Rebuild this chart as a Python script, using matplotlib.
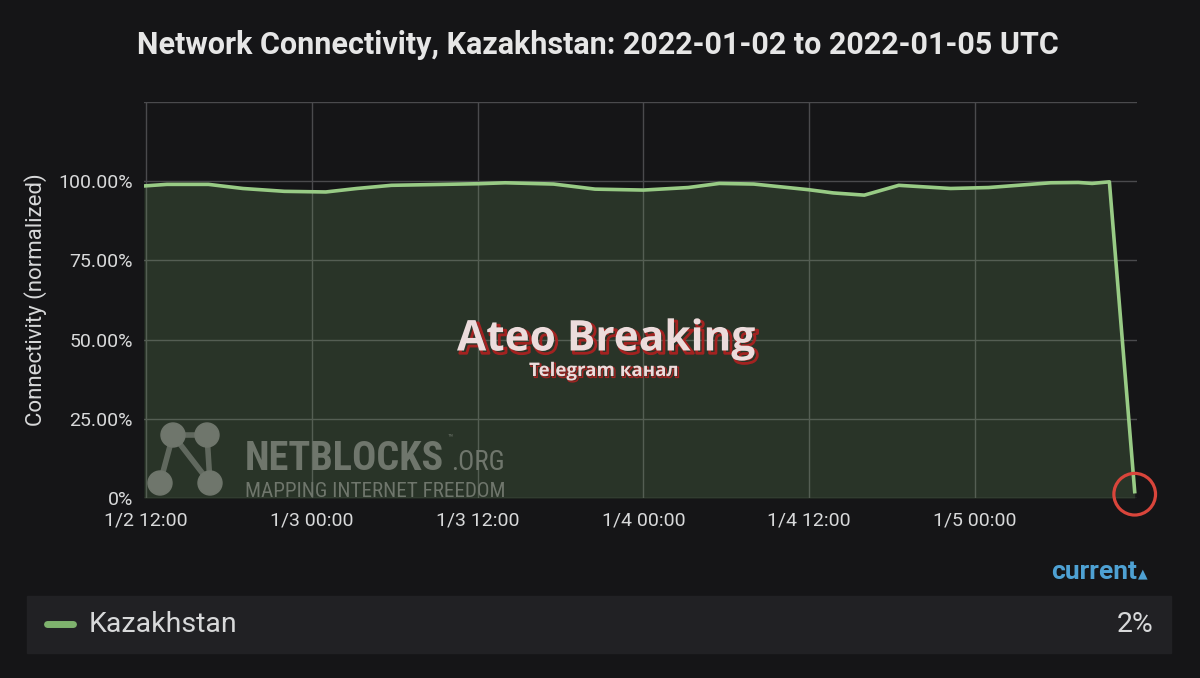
import matplotlib.pyplot as plt
import pandas as pd
from matplotlib import patheffects, font_manager
from matplotlib.patches import Rectangle, Ellipse
from matplotlib.lines import Line2D

# connectivity readings (UTC)
times = ["2022-01-02 11:50", "2022-01-02 13:30", "2022-01-02 16:30", "2022-01-02 19:00",
         "2022-01-02 22:00", "2022-01-03 01:00", "2022-01-03 03:15", "2022-01-03 05:45",
         "2022-01-03 12:00", "2022-01-03 14:00", "2022-01-03 17:30", "2022-01-03 20:30",
         "2022-01-04 00:00", "2022-01-04 03:15", "2022-01-04 05:30", "2022-01-04 08:00",
         "2022-01-04 12:00", "2022-01-04 13:45", "2022-01-04 16:00", "2022-01-04 18:30",
         "2022-01-04 22:15", "2022-01-05 01:00", "2022-01-05 05:30", "2022-01-05 07:30",
         "2022-01-05 08:30", "2022-01-05 09:45", "2022-01-05 11:35"]
values = [98.5, 99.0, 99.0, 97.7, 96.8, 96.6, 97.7, 98.7,
          99.2, 99.5, 99.1, 97.5, 97.2, 98.0, 99.3, 99.1,
          97.3, 96.3, 95.6, 98.7, 97.7, 98.0, 99.5, 99.6,
          99.3, 99.8, 2.0]

tick_times = ["2022-01-02 12:00", "2022-01-03 00:00", "2022-01-03 12:00",
              "2022-01-04 00:00", "2022-01-04 12:00", "2022-01-05 00:00"]
tick_labels = ["1/2 12:00", "1/3 00:00", "1/3 12:00", "1/4 00:00", "1/4 12:00", "1/5 00:00"]
y_ticks = [0, 25, 50, 75, 100, 125]
y_labels = ["0%", "25.00%", "50.00%", "75.00%", "100.00%", ""]

title = "Network Connectivity, Kazakhstan: 2022-01-02 to 2022-01-05 UTC"
country = "Kazakhstan"
current = "2%"

BG = "#151517"
TXT = "#d8d9da"
GREEN = "#7eb26d"
W, H = 1200, 678

plt.rcParams['font.family'] = ['Roboto', 'DejaVu Sans']

fig = plt.figure(figsize=(W / 100, H / 100), dpi=100, facecolor=BG)
ax = fig.add_axes([144 / W, 1 - 498 / H, 993 / W, 396 / H])
ax.set_facecolor(BG)

t = pd.to_datetime(times)
ax.fill_between(t, values, 0, color=GREEN, alpha=0.2, lw=0, zorder=2)
ax.plot(t, values, color="#98cb85", lw=2.6, zorder=3, solid_joinstyle="round")

ax.set_xlim(pd.Timestamp("2022-01-02 11:50"), pd.Timestamp("2022-01-05 11:45"))
ax.set_ylim(0, 125)
ax.set_xticks(pd.to_datetime(tick_times))
ax.set_xticklabels(tick_labels)
ax.set_yticks(y_ticks)
ax.set_yticklabels(y_labels)
ax.tick_params(length=0, colors=TXT, labelsize=14)
ax.tick_params(axis="x", pad=10)
ax.tick_params(axis="y", pad=8)
ax.grid(True, color="#4a4a4d", lw=1, zorder=1)
for s in ax.spines.values():
    s.set_visible(False)
ax.set_ylabel("Connectivity (normalized)", color=TXT, fontsize=16, labelpad=8)

fig.text(0.498, 1 - 45 / H, title, color="#e6e6e6", fontsize=22,
         fontweight="semibold", ha="center", va="center")

# red circle around the last value
ax.scatter([t[-1]], [values[-1] - 0.8], s=900, facecolors="none",
           edgecolors="#d9453b", linewidths=2.3, zorder=5, clip_on=False)

# watermarks
red_shadow = [patheffects.SimpleLineShadow(offset=(2, -2), shadow_color="#b02020",
                                           alpha=0.9, linewidth=2),
              patheffects.Normal()]
fig.text(606 / W, 1 - 340 / H, "Ateo Breaking", color="#ecdcdc", fontsize=30.5,
         fontweight="bold", family=["Open Sans", "DejaVu Sans"], ha="center", va="center",
         path_effects=red_shadow)
fig.text(604 / W, 1 - 371 / H, "Telegram канал", color="#ecdcdc", fontsize=13.5,
         fontweight="bold", family=["Open Sans", "DejaVu Sans"], ha="center", va="center",
         path_effects=[patheffects.SimpleLineShadow(offset=(1, -1), shadow_color="#b02020",
                                                    alpha=0.9, linewidth=1),
                       patheffects.Normal()])

names = {f.name for f in font_manager.fontManager.ttflist}
narrow = "Roboto"
for cand in ["Liberation Sans Narrow", "DejaVu Sans Condensed", "Roboto Condensed"]:
    if cand in names:
        narrow = cand
        break
wm = "#6f766c"


def fit_text(x, y, s, width, size, **kw):
    # shrink a watermark line until it fits the width seen in the picture
    txt = fig.text(x / W, 1 - y / H, s, fontsize=size, ha="left", va="baseline", **kw)
    r = fig.canvas.get_renderer()
    w = txt.get_window_extent(r).width
    if w > width:
        txt.set_fontsize(size * width / w)
    return txt


fit_text(245, 470, "NETBLOCKS", 200, 34, color=wm, fontweight="bold",
         family=[narrow, "DejaVu Sans"], fontstretch="condensed")
fit_text(451, 470, ".ORG", 54, 20, color=wm, family=[narrow, "DejaVu Sans"],
         fontstretch="condensed")
fit_text(447, 440, "™", 10, 7, color=wm, family=[narrow, "DejaVu Sans"])
fit_text(245, 497, "MAPPING INTERNET FREEDOM", 260, 18, color=wm,
         family=[narrow, "DejaVu Sans"], fontstretch="condensed")
nodes = [(173, 435), (207, 435), (160, 483), (210, 483)]
for a, b in [(0, 1), (0, 2), (0, 3), (1, 3)]:
    fig.add_artist(Line2D([nodes[a][0] / W, nodes[b][0] / W],
                          [1 - nodes[a][1] / H, 1 - nodes[b][1] / H],
                          color=wm, lw=4, alpha=0.8))
for nx_, ny_ in nodes:
    fig.add_artist(Ellipse((nx_ / W, 1 - ny_ / H), 24 / W, 24 / H, color=wm,
                           transform=fig.transFigure))

# legend panel
fig.add_artist(Rectangle((27 / W, 1 - 653 / H), 1144 / W, 57 / H, color="#212124",
                         transform=fig.transFigure, zorder=0))
fig.add_artist(Line2D([47 / W, 73 / W], [1 - 624 / H, 1 - 624 / H], color=GREEN,
                      lw=5, solid_capstyle="round"))
fig.text(89 / W, 1 - 624 / H, country, color=TXT, fontsize=20.5, ha="left", va="center")
fig.text(1153 / W, 1 - 624 / H, current, color=TXT, fontsize=20.5, ha="right", va="center")
fig.text(1137 / W, 1 - 572 / H, "current", color="#4ea1d3", fontsize=19,
         fontweight="bold", ha="right", va="center")
fig.text(1138 / W, 1 - 574 / H, "▲", color="#4ea1d3", fontsize=9,
         family=["DejaVu Sans"], ha="left", va="center")

fig.savefig("out.png", dpi=100, facecolor=BG)
